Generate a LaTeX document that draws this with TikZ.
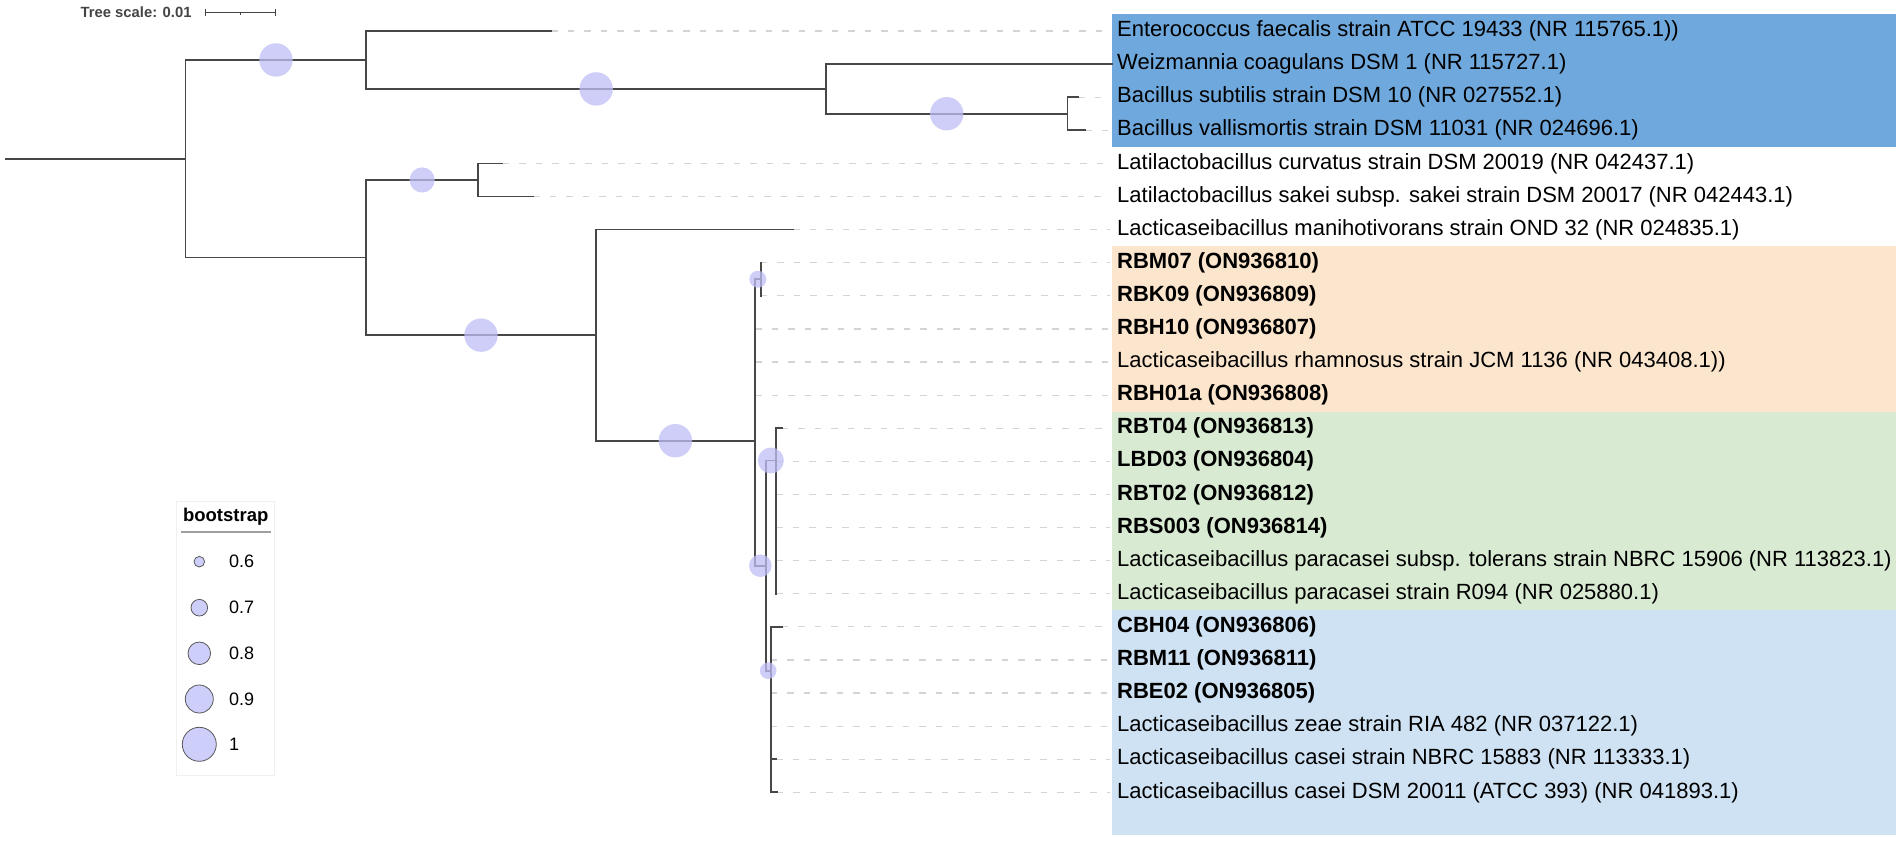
\documentclass[tikz,border=0pt]{standalone}
\usepackage{fontspec}
\setmainfont{Liberation Sans}
\usetikzlibrary{calc}
\definecolor{treeline}{HTML}{474747}
\definecolor{bubfill}{RGB}{190,190,245}
\definecolor{legfill}{RGB}{206,206,250}
\definecolor{cladeA}{HTML}{6FA8DC}
\definecolor{cladeB}{HTML}{FCE5CD}
\definecolor{cladeC}{HTML}{D9EAD3}
\definecolor{cladeD}{HTML}{CFE2F3}
\definecolor{guide}{HTML}{D4D4D4}
\definecolor{scaletext}{HTML}{444444}
\begin{document}
\begin{tikzpicture}[x=1pt,y=-1pt,
  branch/.style={draw=treeline, line width=1.7pt, line cap=rect},
  guideline/.style={draw=guide, line width=1.2pt, dash pattern=on 6.5pt off 10pt},
  leaf/.style={anchor=west, inner sep=0pt, font=\fontsize{22}{24}\selectfont},
  leafb/.style={anchor=west, inner sep=0pt, font=\fontsize{22}{24}\selectfont\bfseries},
  bub/.style={circle, inner sep=0pt, fill=bubfill, fill opacity=0.75},
  legbub/.style={circle, inner sep=0pt, fill=legfill, draw=gray!70!black, line width=0.8pt},
  legtext/.style={anchor=west, inner sep=0pt, font=\fontsize{18}{20}\selectfont}]
\useasboundingbox (0,0) rectangle (1902,842);

% clade backgrounds
\fill[cladeA] (1112,14.45) rectangle (1896,146.85);
\fill[cladeB] (1112,246.15) rectangle (1896,411.65);
\fill[cladeC] (1112,411.65) rectangle (1896,610.25);
\fill[cladeD] (1112,610.25) rectangle (1896,835);

% tips
\foreach \i/\x/\y in {0/551/31, 1/1112/64.1, 2/1078/97.2, 3/1085/130.3,
  4/502.5/163.4, 5/533/196.5, 6/793/229.6, 7/760.7/262.7, 8/760.7/295.8,
  9/755/328.9, 10/755/362, 11/755/395.1, 12/781.7/428.2, 13/776/461.3,
  14/776/494.4, 15/776/527.5, 16/776/560.6, 17/776/593.7, 18/781.7/626.8,
  19/770.7/659.9, 20/770.7/693, 21/770.7/726.1, 22/776/759.2, 23/776.7/792.3}
{ \coordinate (t\i) at (\x,\y); \coordinate (g\i) at (1110,\y); }

% internal nodes
\coordinate (r0) at (6,158.75);
\coordinate (R) at (185.6,158.75);
\coordinate (U) at (366.3,59.95);
\coordinate (WB) at (826,88.9);
\coordinate (Bn) at (1067.5,113.75);
\coordinate (L) at (366.3,257.55);
\coordinate (Lt) at (478,179.95);
\coordinate (Lc) at (595.7,335.15);
\coordinate (M) at (755,440.7);
\coordinate (K) at (760.7,279.25);
\coordinate (PC) at (765.7,565.7);
\coordinate (P) at (776,460.5);
\coordinate (C) at (770.7,670.7);

% guide lines
\foreach \i in {0,2,3,4,5,6,7,8,9,10,11,12,13,14,15,16,17,18,19,20,21,22,23}
  \draw[guideline] (t\i) -- (g\i);

% branches
\draw[branch] (r0) -- (R);
\foreach \a/\b in {R/U, R/L, U/t0, U/WB, WB/t1, WB/Bn, Bn/t2, Bn/t3,
  L/Lt, L/Lc, Lt/t4, Lt/t5, Lc/t6, Lc/M, M/K, M/t9, M/t10, M/t11, M/PC,
  K/t7, K/t8, PC/P, PC/C, P/t12, P/t13, P/t14, P/t15, P/t16, P/t17,
  C/t18, C/t19, C/t20, C/t21, C/t22, C/t23}
  \draw[branch] (\a) |- (\b);

% bootstrap bubbles
\node[bub, minimum size=33.4pt] (bU) at ($(R|-U)!0.5!(U)$) {};
\node[bub, minimum size=33.4pt] (bWB) at ($(U|-WB)!0.5!(WB)$) {};
\node[bub, minimum size=33.4pt] (bBn) at ($(WB|-Bn)!0.5!(Bn)$) {};
\node[bub, minimum size=25.2pt] (bLt) at ($(L|-Lt)!0.5!(Lt)$) {};
\node[bub, minimum size=33.4pt] (bLc) at ($(L|-Lc)!0.5!(Lc)$) {};
\node[bub, minimum size=33.4pt] (bM) at ($(Lc|-M)!0.5!(M)$) {};
\node[bub, minimum size=17pt] (bK) at ($(M|-K)!0.5!(K)$) {};
\node[bub, minimum size=22.6pt] (bPC) at ($(M|-PC)!0.5!(PC)$) {};
\node[bub, minimum size=26pt] (bP) at ($(PC|-P)!0.5!(P)$) {};
\node[bub, minimum size=16.6pt] (bC) at ($(PC|-C)!0.5!(C)$) {};

% leaf labels
\node[leaf] (l0) at (1117,31) {Enterococcus faecalis strain ATCC 19433 (NR 115765.1))};
\node[leaf] (l1) at (1117,64.1) {Weizmannia coagulans DSM 1 (NR 115727.1)};
\node[leaf] (l2) at (1117,97.2) {Bacillus subtilis strain DSM 10 (NR 027552.1)};
\node[leaf] (l3) at (1117,130.3) {Bacillus vallismortis strain DSM 11031 (NR 024696.1)};
\node[leaf] (l4) at (1117,163.4) {Latilactobacillus curvatus strain DSM 20019 (NR 042437.1)};
\node[leaf] (l5) at (1117,196.5) {Latilactobacillus sakei subsp. sakei strain DSM 20017 (NR 042443.1)};
\node[leaf] (l6) at (1117,229.6) {Lacticaseibacillus manihotivorans strain OND 32 (NR 024835.1)};
\node[leafb] (l7) at (1117,262.7) {RBM07 (ON936810)};
\node[leafb] (l8) at (1117,295.8) {RBK09 (ON936809)};
\node[leafb] (l9) at (1117,328.9) {RBH10 (ON936807)};
\node[leaf] (l10) at (1117,362) {Lacticaseibacillus rhamnosus strain JCM 1136 (NR 043408.1))};
\node[leafb] (l11) at (1117,395.1) {RBH01a (ON936808)};
\node[leafb] (l12) at (1117,428.2) {RBT04 (ON936813)};
\node[leafb] (l13) at (1117,461.3) {LBD03 (ON936804)};
\node[leafb] (l14) at (1117,494.4) {RBT02 (ON936812)};
\node[leafb] (l15) at (1117,527.5) {RBS003 (ON936814)};
\node[leaf] (l16) at (1117,560.6) {Lacticaseibacillus paracasei subsp. tolerans strain NBRC 15906 (NR 113823.1)};
\node[leaf] (l17) at (1117,593.7) {Lacticaseibacillus paracasei strain R094 (NR 025880.1)};
\node[leafb] (l18) at (1117,626.8) {CBH04 (ON936806)};
\node[leafb] (l19) at (1117,659.9) {RBM11 (ON936811)};
\node[leafb] (l20) at (1117,693) {RBE02 (ON936805)};
\node[leaf] (l21) at (1117,726.1) {Lacticaseibacillus zeae strain RIA 482 (NR 037122.1)};
\node[leaf] (l22) at (1117,759.2) {Lacticaseibacillus casei strain NBRC 15883 (NR 113333.1)};
\node[leaf] (l23) at (1117,792.3) {Lacticaseibacillus casei DSM 20011 (ATCC 393) (NR 041893.1)};

% tree scale
\node[anchor=east, inner sep=0pt, text=scaletext, font=\fontsize{14.8}{16}\selectfont\bfseries] (ts) at (191.7,12.7) {Tree scale: 0.01};
\coordinate (sb1) at (205,12.7);
\coordinate (sb2) at (275.3,12.7);
\coordinate (sbm) at (240.15,12.7);
\draw[draw=scaletext, line width=1pt] (sb1) -- (sb2);
\draw[draw=scaletext, line width=1pt] ($(sb1)+(0,-3.4)$) -- ($(sb1)+(0,3.4)$);
\draw[draw=scaletext, line width=1pt] ($(sb2)+(0,-3.4)$) -- ($(sb2)+(0,3.4)$);
\draw[draw=scaletext, line width=1pt] (sbm) -- ($(sbm)+(0,2.2)$);

% legend
\draw[draw=gray!12, line width=0.8pt, fill=white] (176.7,501.7) rectangle (274.3,775);
\node[inner sep=0pt, font=\fontsize{18.5}{20}\selectfont\bfseries] (lt) at (225.7,516.7) {bootstrap};
\draw[draw=gray!75, line width=2pt] (180.7,532.3) -- (270.7,532.3);
\node[legbub, minimum size=10.6pt] (c6) at (199.3,561.7) {};
\node[legbub, minimum size=16.6pt] (c7) at (199.3,607.7) {};
\node[legbub, minimum size=22.6pt] (c8) at (199.3,653.3) {};
\node[legbub, minimum size=28pt] (c9) at (199.3,699) {};
\node[legbub, minimum size=34pt] (c10) at (199.3,744.3) {};
\node[legtext] (v6) at (229,561.7) {0.6};
\node[legtext] (v7) at (229,607.7) {0.7};
\node[legtext] (v8) at (229,653.3) {0.8};
\node[legtext] (v9) at (229,699) {0.9};
\node[legtext] (v10) at (229,744.3) {1};
\end{tikzpicture}
\end{document}
